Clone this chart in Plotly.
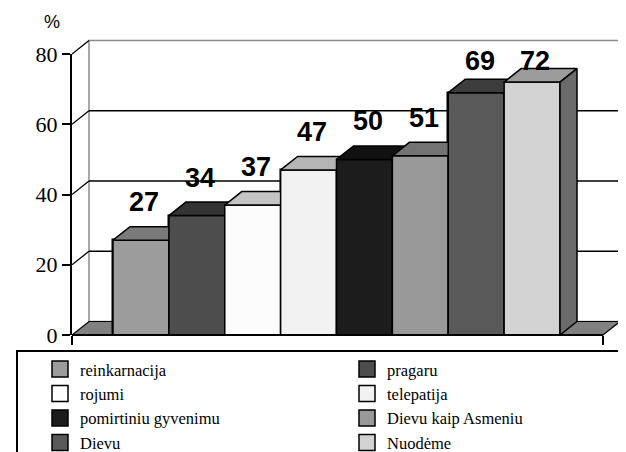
import plotly.graph_objects as go

# ---------------- data ----------------
categories = ["reinkarnacija", "pragaru", "rojumi", "telepatija",
              "pomirtiniu gyvenimu", "Dievu kaip Asmeniu", "Dievu", "Nuodėme"]
values = [27, 34, 37, 47, 50, 51, 69, 72]
y_ticks = [0, 20, 40, 60, 80]

# ---------------- style ----------------
front_colors = ["#9c9c9c", "#4d4d4d", "#fcfcfc", "#f2f2f2",
                "#1c1c1c", "#999999", "#595959", "#d2d2d2"]
top_colors = ["#7a7a7a", "#333333", "#c4c4c4", "#b5b5b5",
              "#111111", "#737373", "#3d3d3d", "#9c9c9c"]
side_colors = ["#6a6a6a", "#2a2a2a", "#9a9a9a", "#909090",
               "#0c0c0c", "#606060", "#333333", "#6b6b6b"]
SERIF = "Liberation Serif, Times New Roman, serif"
SANS = "Liberation Sans, Arial, sans-serif"

PAGE_OFF = 8               # default body margin of the html page
Y_TOP = 80.0
PX_PER_X = 55.875          # pixel width of one bar
PLOT_W = 552
PAD_L = 0.734              # front axis start left of first bar
PAD_R = 0.770              # front axis end right of last bar
DX, DY = 0.304, 3.84       # 3-D depth offset (x units, value units)
LABEL_DX, LABEL_OFF, LABEL_CAP = 0.06, 7.0, 78.0

n = len(values)
X_L = -0.5 - PAD_L
X_R = n - 0.5 + PAD_R
X_MAX = X_L + PLOT_W / PX_PER_X


def py(v):
    """value -> paper y (y axis spans [0, Y_TOP])"""
    return v / Y_TOP


fig = go.Figure()

# front faces through the bar scale
for i, (c, v) in enumerate(zip(categories, values)):
    fig.add_trace(go.Bar(
        x=[i], y=[v], width=1, name=c, showlegend=False,
        marker=dict(color=front_colors[i], line=dict(color="black", width=1.5)),
        hoverinfo="skip"))

# legend swatches (square markers, hidden behind the bar faces)
for i, (c, v) in enumerate(zip(categories, values)):
    fig.add_trace(go.Scatter(
        x=[i], y=[v / 2], mode="markers", name=c,
        marker=dict(symbol="square", size=16, color=front_colors[i],
                    line=dict(color="black", width=1.5)),
        hoverinfo="skip"))

# 3-D faces drawn in painter order
for i, v in enumerate(values):
    l, r = i - 0.5, i + 0.5
    faces = [
        ([l, r, r, l, l], [0, 0, v, v, 0], front_colors[i]),
        ([l, r, r + DX, l + DX, l], [v, v, v + DY, v + DY, v], top_colors[i]),
        ([r, r + DX, r + DX, r, r], [0, DY, v + DY, v, 0], side_colors[i]),
    ]
    for xs, ys, col in faces:
        fig.add_trace(go.Scatter(
            x=xs, y=ys, mode="lines", fill="toself", fillcolor=col,
            line=dict(color="black", width=1.5), showlegend=False,
            hoverinfo="skip"))

shapes = []
# back wall
shapes.append(dict(type="rect", xref="x", yref="paper",
                   x0=X_L + DX, x1=X_R + DX, y0=py(DY), y1=py(Y_TOP + DY),
                   fillcolor="white", line=dict(color="#8c8c8c", width=1.5),
                   layer="below"))
# gridlines on back wall + diagonals on side wall
for t in y_ticks:
    if 0 < t < Y_TOP:
        shapes.append(dict(type="line", xref="x", yref="paper",
                           x0=X_L + DX, x1=X_R + DX, y0=py(t + DY), y1=py(t + DY),
                           line=dict(color="black", width=1.3), layer="below"))
    if t > 0:
        shapes.append(dict(type="line", xref="x", yref="paper",
                           x0=X_L, x1=X_L + DX, y0=py(t), y1=py(t + DY),
                           line=dict(color="black", width=1.3), layer="below"))
# floor
shapes.append(dict(type="path", xref="x", yref="paper",
                   path=f"M{X_L},{py(0)} L{X_R},{py(0)} L{X_R + DX},{py(DY)} L{X_L + DX},{py(DY)} Z",
                   fillcolor="#808080", line=dict(color="black", width=1.2),
                   layer="below"))
# front baseline
shapes.append(dict(type="line", xref="x", yref="paper",
                   x0=X_L, x1=X_R, y0=0, y1=0,
                   line=dict(color="black", width=2), layer="above"))
# legend frame (extends past the page edge as in the original)
shapes.append(dict(type="rect", xref="paper", yref="paper",
                   x0=(17 - 72) / PLOT_W, x1=1.06, y0=-0.057, y1=-0.55,
                   line=dict(color="black", width=2), fillcolor="rgba(0,0,0,0)",
                   layer="above"))

annotations = []
for i, v in enumerate(values):
    annotations.append(dict(
        x=i + LABEL_DX, y=min(v + DY + LABEL_OFF, LABEL_CAP), xref="x", yref="y",
        text=f"<b>{v}</b>", showarrow=False, xanchor="center", yanchor="middle",
        font=dict(family=SANS, size=27, color="black")))
annotations.append(dict(
    x=(52 - 72) / PLOT_W, y=1.114, xref="paper", yref="paper", text="%",
    showarrow=False, xanchor="center", yanchor="middle",
    font=dict(family=SANS, size=18, color="black")))

fig.update_layout(
    width=626, height=452,
    margin=dict(l=72 - PAGE_OFF, r=626 - 72 - PLOT_W + PAGE_OFF,
                t=54 - PAGE_OFF, b=452 - 335 + PAGE_OFF, autoexpand=False),
    paper_bgcolor="white", plot_bgcolor="white",
    barmode="overlay", bargap=0,
    shapes=shapes, annotations=annotations,
    showlegend=True,
    legend=dict(orientation="h", x=(40 - 72) / PLOT_W, y=-0.060,
                xanchor="left", yanchor="top",
                entrywidth=262, entrywidthmode="pixels",
                bgcolor="rgba(0,0,0,0)", borderwidth=0,
                font=dict(family=SERIF, size=16.5, color="black")),
    xaxis=dict(range=[X_L, X_MAX], showgrid=False, zeroline=False,
               showline=False, tickmode="array", tickvals=[X_L, X_R],
               ticks="outside", ticklen=9, tickwidth=2, tickcolor="black",
               showticklabels=False, fixedrange=True),
    yaxis=dict(range=[0, Y_TOP], tickmode="array", tickvals=y_ticks,
               showgrid=False, zeroline=False, showline=True,
               linecolor="black", linewidth=2,
               ticks="outside", ticklen=8, tickwidth=2, tickcolor="black",
               tickfont=dict(family=SERIF, size=22, color="black"),
               fixedrange=True),
)

fig.write_html("out.html")
